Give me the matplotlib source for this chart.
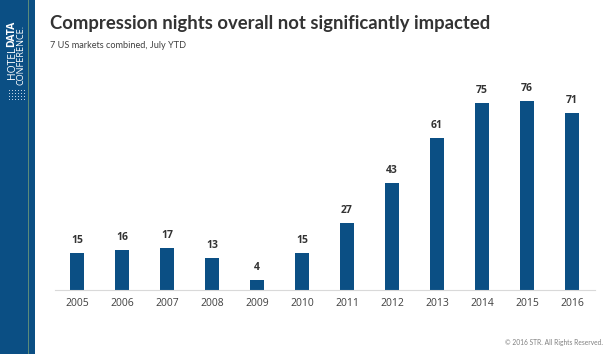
import matplotlib
matplotlib.use("Agg")
import matplotlib.pyplot as plt
from matplotlib.patches import Rectangle

years = ["2005", "2006", "2007", "2008", "2009", "2010", "2011", "2012", "2013", "2014", "2015", "2016"]
nights = [15, 16, 17, 13, 4, 15, 27, 43, 61, 75, 76, 71]

title = "Compression nights overall not significantly impacted"
subtitle = "7 US markets combined, July YTD"
footer = "\u00a9 2016 STR. All Rights Reserved."

W, H = 609, 354
fig = plt.figure(figsize=(W / 100, H / 100), dpi=100)
fig.patch.set_facecolor("white")

# sidebar
fig.patches.append(Rectangle((0, 0), 35 / W, 1, transform=fig.transFigure,
                             facecolor="#0B4F84", edgecolor="none", zorder=0))
fig.patches.append(Rectangle((28 / W, 0), 1 / W, 1, transform=fig.transFigure,
                             facecolor="#5A8A7A", edgecolor="none", zorder=1))
fig.text(12 / W, 1 - 47 / H, "HOTEL", rotation=90, color="white", fontsize=7.5,
         family="Open Sans", ha="center", va="top")
fig.text(12 / W, 1 - 47 / H, "DATA", rotation=90, color="white", fontsize=7.5,
         family="Open Sans", fontweight="bold", ha="center", va="bottom")
fig.text(21 / W, 1 - 85 / H, "CONFERENCE.", rotation=90, color="white", fontsize=6.6,
         family="Open Sans", ha="center", va="bottom")
# dotted logo mark
for i in range(6):
    for j in range(4):
        fig.patches.append(Rectangle(((9 + i * 3) / W, 1 - (100 - j * 3) / H), 1.2 / W, 1.2 / H,
                                     transform=fig.transFigure, facecolor="#BFD3E6",
                                     edgecolor="none", zorder=2))

fig.text(50 / W, 1 - 23 / H, title, fontsize=13.3, fontweight="bold", color="#333333",
         family="Lato", ha="left", va="center")
fig.text(50 / W, 1 - 45 / H, subtitle, fontsize=6.6, color="#404040",
         family="Lato", ha="left", va="center")
fig.text(603 / W, 1 - 343 / H, footer, fontsize=4.8, color="#808080",
         family="Lato", ha="right", va="center")

ymax = 90
ax_left = 54.5 / W
ax_right = 594.5 / W
ax_bottom = 1 - 290 / H
ax_height = (ymax * 2.49) / H
ax = fig.add_axes([ax_left, ax_bottom, ax_right - ax_left, ax_height])
x = list(range(len(years)))
ax.bar(x, nights, width=0.31, color="#0B4F84", zorder=2)
for xi, v in zip(x, nights):
    ax.annotate(str(v), (xi, v), xytext=(0, 5), textcoords="offset points",
                ha="center", va="bottom", fontsize=7.5, fontweight="bold",
                color="#333333", family="Open Sans")
ax.set_xlim(-0.5, len(years) - 0.5)
ax.set_ylim(0, ymax)
ax.set_xticks(x)
ax.set_xticklabels(years, fontsize=7.5, color="#404040", family="Open Sans")
ax.tick_params(axis="x", length=0, pad=6)
ax.set_yticks([])
for s in ["top", "right", "left"]:
    ax.spines[s].set_visible(False)
ax.spines["bottom"].set_color("#D9D9D9")
ax.spines["bottom"].set_linewidth(0.8)
ax.set_facecolor("none")

fig.savefig("out.png", dpi=100)
